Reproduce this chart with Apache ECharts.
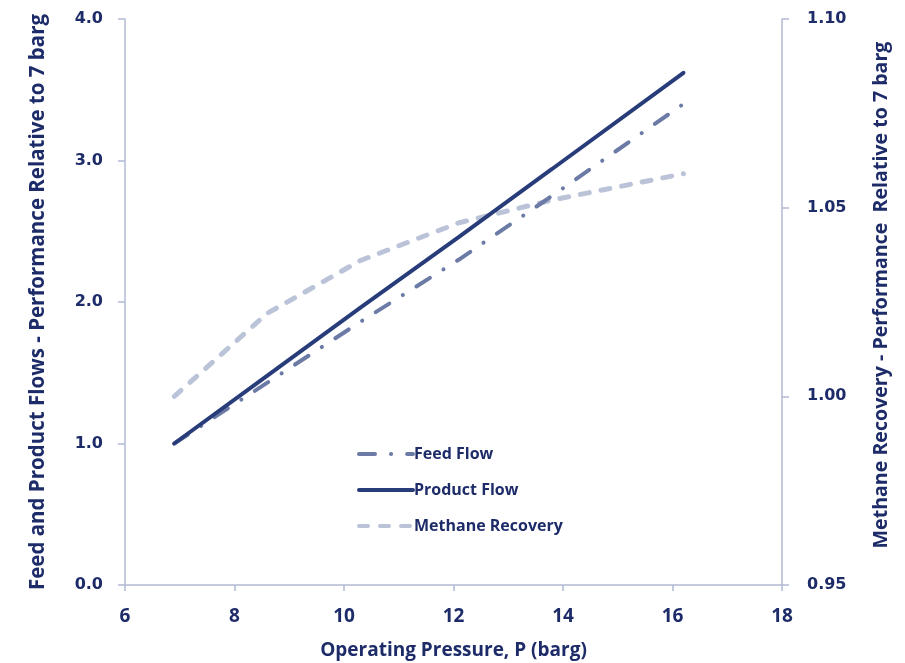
<!DOCTYPE html>
<html>
<head>
<meta charset="utf-8">
<script src="https://cdn.jsdelivr.net/npm/echarts@6/dist/echarts.min.js"></script>
<style>
html,body{margin:0;padding:0;background:#fff;}
#chart{width:905px;height:663px;}
</style>
</head>
<body>
<div id="chart"></div>
<script>
var pressure = [6.9, 8.6, 10.3, 12.1, 13.8, 16.2];
var feedFlow = [1.0, 1.43, 1.86, 2.30, 2.75, 3.40];
var productFlow = [1.0, 1.48, 1.96, 2.46, 2.94, 3.62];
var methaneRecovery = [1.000, 1.022, 1.036, 1.046, 1.052, 1.059];
var seriesNames = ['Feed Flow', 'Product Flow', 'Methane Recovery'];
var xTitle = 'Operating Pressure, P (barg)';
var yLeftTitle = 'Feed and Product Flows - Performance Relative to 7 barg';
var yRightTitle = 'Methane Recovery - Performance  Relative to 7 barg';

function pairs(xs, ys){ return xs.map(function(x,i){ return [x, ys[i]]; }); }

var textColor = '#1d2c69';
var axisColor = '#b3bbd5';
var titleFont = 'Open Sans';
var tickFont = 'DejaVu Sans';

var chart = echarts.init(document.getElementById('chart'), null, {renderer:'canvas'});
chart.setOption({
  animation: false,
  grid: {left: 125, right: 123, top: 19, bottom: 78, containLabel: false, outerBoundsMode: 'none'},
  legend: {
    orient: 'vertical',
    left: 357, top: 446, padding: 0,
    itemWidth: 54, itemHeight: 14, itemGap: 20,
    itemStyle: {opacity: 0},
    lineStyle: {width: 4},
    textStyle: {color: textColor, fontFamily: titleFont, fontWeight: 'bold', fontSize: 16, padding:[0,0,0,-4]},
    data: seriesNames
  },
  xAxis: {
    type: 'value', min: 6, max: 18, interval: 2,
    name: xTitle, nameLocation: 'middle', nameGap: 56,
    nameTextStyle: {color: textColor, fontFamily: titleFont, fontWeight: 'bold', fontSize: 19},
    axisLine: {show: true, lineStyle: {color: axisColor, width: 1.5}},
    axisTick: {show: true, length: 6, lineStyle: {color: axisColor, width: 1.5}},
    axisLabel: {color: textColor, fontFamily: titleFont, fontWeight: 'bold', fontSize: 19, margin: 22},
    splitLine: {show: false}
  },
  yAxis: [{
    type: 'value', min: 0, max: 4, interval: 1, position: 'left',
    name: yLeftTitle, nameLocation: 'middle', nameGap: 76, nameRotate: 90,
    nameTextStyle: {color: textColor, fontFamily: titleFont, fontWeight: 'bold', fontSize: 20.5},
    axisLine: {show: true, lineStyle: {color: axisColor, width: 1.5}},
    axisTick: {show: true, length: 7, lineStyle: {color: axisColor, width: 1.5}},
    axisLabel: {color: textColor, fontFamily: tickFont, fontWeight: 'bold', fontSize: 16, margin: 22,
      formatter: function(v){ return v.toFixed(1); }},
    splitLine: {show: false}
  },{
    type: 'value', min: 0.95, max: 1.10, interval: 0.05, position: 'right',
    name: yRightTitle, nameLocation: 'middle', nameGap: 89, nameRotate: 90,
    nameTextStyle: {color: textColor, fontFamily: titleFont, fontWeight: 'bold', fontSize: 19.6, padding: [0,0,0,14]},
    axisLine: {show: true, lineStyle: {color: axisColor, width: 1.5}},
    axisTick: {show: true, length: 7, lineStyle: {color: axisColor, width: 1.5}},
    axisLabel: {color: textColor, fontFamily: tickFont, fontWeight: 'bold', fontSize: 16, margin: 25,
      formatter: function(v){ return v.toFixed(2); }},
    splitLine: {show: false}
  }],
  series: [{
    name: seriesNames[0], type: 'line', yAxisIndex: 0, symbol: 'none', smooth: false,
    data: pairs(pressure, feedFlow), z: 3,
    lineStyle: {color: '#6b7ba6', width: 4, type: [16, 16, 0.1, 16], cap: 'round'},
    itemStyle: {color: '#6b7ba6'}
  },{
    name: seriesNames[1], type: 'line', yAxisIndex: 0, symbol: 'none', smooth: false,
    data: pairs(pressure, productFlow), z: 4,
    lineStyle: {color: '#283c7a', width: 4, cap: 'round'},
    itemStyle: {color: '#283c7a'}
  },{
    name: seriesNames[2], type: 'line', yAxisIndex: 1, symbol: 'none', smooth: false,
    data: pairs(pressure, methaneRecovery), z: 2,
    lineStyle: {color: '#bac3d8', width: 5, type: [9, 12], cap: 'round'},
    itemStyle: {color: '#bac3d8'}
  }]
});
</script>
</body>
</html>
